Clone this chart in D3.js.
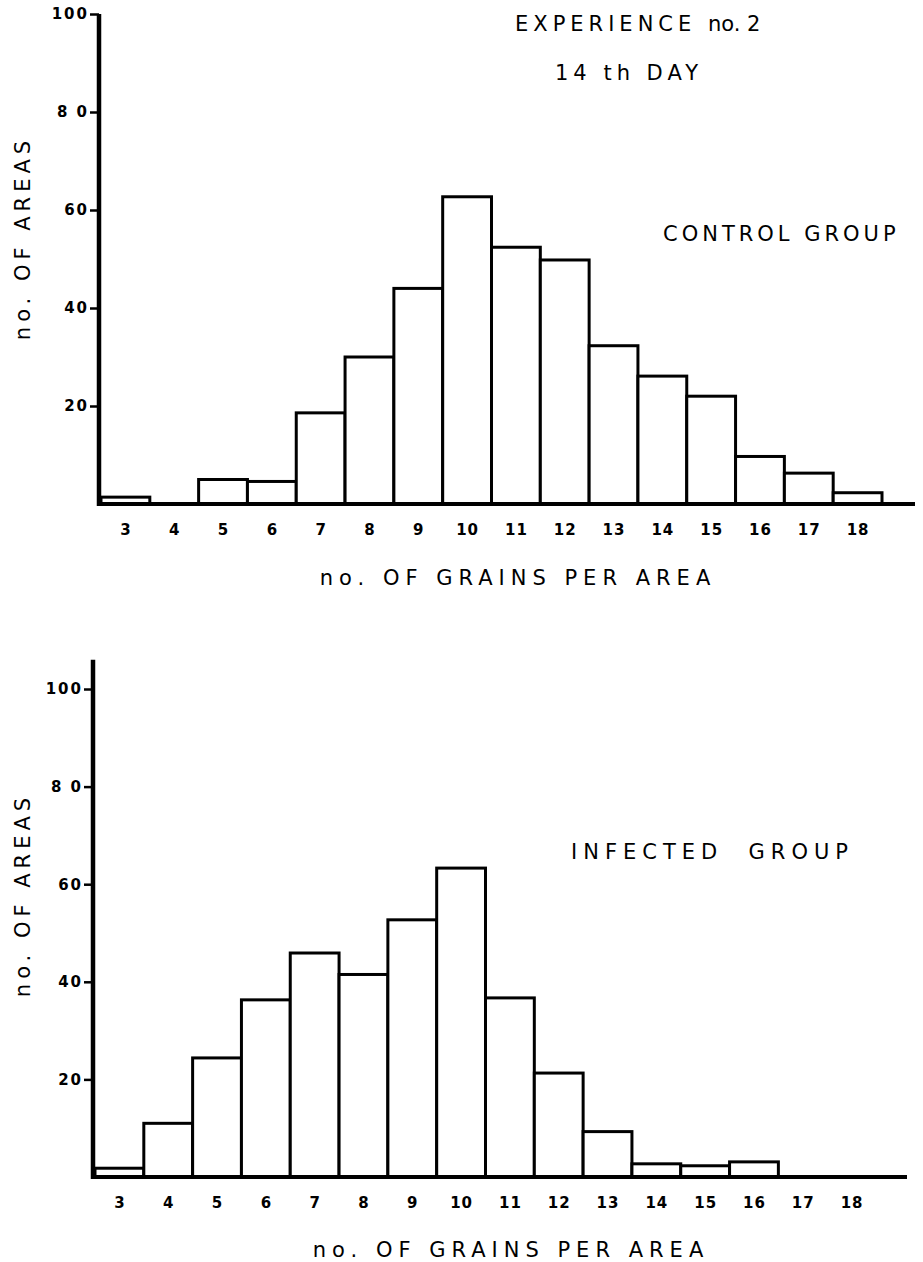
<!DOCTYPE html>
<html>
<head>
<meta charset="utf-8">
<script src="https://cdn.jsdelivr.net/npm/d3@7"></script>
<style>
  body { margin: 0; background: #fff; }
  svg text { font-family: "DejaVu Sans", sans-serif; fill: #000; }
  svg .tick text { font-weight: bold; font-size: 15px; }
  .lbl { font-size: 21px; letter-spacing: 5px; }
  .wide { letter-spacing: 6px; }
  .narrow { letter-spacing: 4px; }
</style>
</head>
<body>
<div id="chart"></div>
<script>
// grains per area (bins)
const grains = [3, 4, 5, 6, 7, 8, 9, 10, 11, 12, 13, 14, 15, 16, 17, 18];
const controlAreas = [1.4, 0, 5, 4.6, 18.6, 30, 44, 62.7, 52.4, 49.8, 32.3, 26.1, 22, 9.7, 6.3, 2.3];
const infectedAreas = [1.8, 11, 24.4, 36.3, 45.9, 41.5, 52.7, 63.3, 36.7, 21.3, 9.3, 2.7, 2.3, 3.1, 0, 0];
const yTicks = [20, 40, 60, 80, 100];
const yTickLabels = ['20', '40', '60', '8 0', '100'];

const width = 923, height = 1262;

const svg = d3.select('#chart').append('svg')
    .attr('width', width)
    .attr('height', height);

const panels = [
    {
        values: controlAreas,
        xRange: [101, 882], yRange: [504, 14], axisTop: 100, axisEnd: 915,
        xTitleY: 585, yTitleY: 238,
        group: 'CONTROL GROUP', groupCls: 'lbl narrow', groupX: 663, groupY: 241
    },
    {
        values: infectedAreas,
        xRange: [95, 876], yRange: [1177, 689], axisTop: 106, axisEnd: 907,
        xTitleY: 1257, yTitleY: 895,
        group: 'INFECTED  GROUP', groupCls: 'lbl wide', groupX: 571, groupY: 859
    }
];

panels.forEach(p => {
    const x = d3.scaleLinear().domain([3, 19]).range(p.xRange);
    const y = d3.scaleLinear().domain([0, 100]).range(p.yRange);
    const g = svg.append('g');

    // bars
    g.selectAll('rect.bar')
        .data(grains.map((k, i) => ({ k: k, v: p.values[i] })).filter(d => d.v > 0))
        .enter().append('rect')
        .attr('class', 'bar')
        .attr('x', d => x(d.k))
        .attr('width', d => x(d.k + 1) - x(d.k))
        .attr('y', d => y(d.v))
        .attr('height', d => y(0) - y(d.v))
        .attr('fill', '#fff')
        .attr('stroke', '#000')
        .attr('stroke-width', 3);

    // x axis (baseline) with centred labels
    const xAxis = d3.axisBottom(x)
        .tickValues(grains.map(k => k + 0.5))
        .tickFormat(v => String(v - 0.5))
        .tickSize(0)
        .tickPadding(20);
    const gx = g.append('g')
        .attr('transform', `translate(0,${y(0)})`)
        .call(xAxis);
    gx.select('.domain').remove();
    gx.selectAll('.tick text').style('letter-spacing', '1px');
    g.append('line')
        .attr('x1', x(3) - 4).attr('x2', p.axisEnd)
        .attr('y1', y(0)).attr('y2', y(0))
        .attr('stroke', '#000').attr('stroke-width', 4);

    // y axis
    const yAxis = d3.axisLeft(y)
        .tickValues(yTicks)
        .tickFormat((v, i) => yTickLabels[i])
        .tickSize(9)
        .tickPadding(1);
    const gy = g.append('g')
        .attr('transform', `translate(${x(3) - 2},0)`)
        .call(yAxis);
    gy.select('.domain').remove();
    gy.selectAll('.tick line').attr('stroke-width', 2.5);
    gy.selectAll('.tick text').style('letter-spacing', '2px');
    g.append('line')
        .attr('x1', x(3) - 2).attr('x2', x(3) - 2)
        .attr('y1', y(p.axisTop)).attr('y2', y(0) + 2)
        .attr('stroke', '#000').attr('stroke-width', 4.5);

    // titles
    g.append('text').attr('class', 'lbl wide')
        .attr('x', (x(3) + p.axisEnd) / 2 + 10).attr('y', p.xTitleY)
        .attr('text-anchor', 'middle')
        .text('no. OF GRAINS PER AREA');
    g.append('text').attr('class', 'lbl')
        .attr('transform', `translate(30,${p.yTitleY}) rotate(-90)`)
        .attr('text-anchor', 'middle')
        .text('no. OF AREAS');
    g.append('text').attr('class', p.groupCls)
        .attr('x', p.groupX).attr('y', p.groupY)
        .style('white-space', 'pre')
        .text(p.group);
});

const title = svg.append('text').attr('class', 'lbl')
    .attr('x', 515).attr('y', 31);
title.append('tspan').text('EXPERIENCE ');
title.append('tspan').style('letter-spacing', '0px').text('no. 2');
svg.append('text').attr('class', 'lbl')
    .attr('x', 555).attr('y', 80)
    .style('white-space', 'pre')
    .text('14 th DAY');
</script>
</body>
</html>
